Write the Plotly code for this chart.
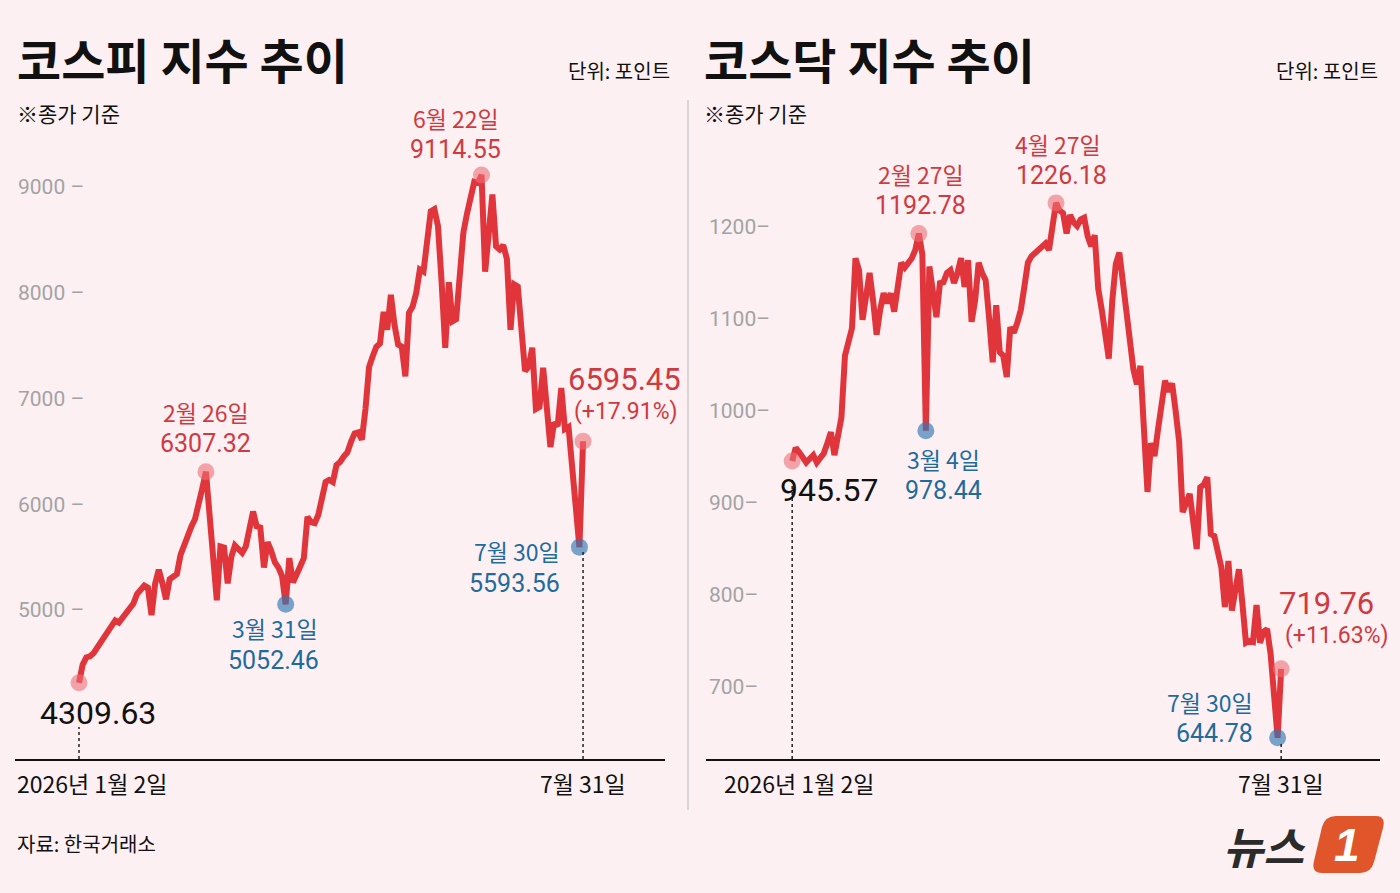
import plotly.graph_objects as go

W, H = 1400, 893

# trading days from 2026-01-02 to 2026-07-31 (index 0 .. 139), closing values
kospi = [
    4309.63, 4480, 4550, 4560, 4590, 4640, 4700, 4760, 4800, 4850,
    4900, 4880, 4920, 4960, 5000, 5060, 5150, 5190, 5230, 5210,
    4950, 5250, 5380, 5250, 5100, 5290, 5310, 5340, 5520, 5610,
    5720, 5790, 5860, 5990, 6150, 6307.32, 5900, 5400, 5090, 5600,
    5590, 5250, 5500, 5610, 5570, 5540, 5600, 5750, 5930, 5790,
    5780, 5400, 5640, 5560, 5450, 5400, 5320, 5052.46, 5490, 5260,
    5350, 5410, 5490, 5880, 5830, 5820, 5900, 6050, 6210, 6230,
    6210, 6370, 6400, 6450, 6490, 6590, 6670, 6680, 6610, 6900,
    7300, 7400, 7490, 7520, 7820, 7650, 7980, 7700, 7510, 7490,
    7210, 7810, 7870, 8000, 8220, 8200, 8450, 8770, 8790, 8630,
    8100, 7480, 8100, 7730, 7750, 8150, 8570, 8750, 8900, 9050,
    9040, 9114.55, 8200, 8600, 8930, 8440, 8410, 8450, 8320, 7650,
    8080, 8060, 7600, 7260, 7300, 7480, 6900, 6920, 7290, 6900,
    6540, 6770, 6740, 7100, 6710, 6730, 6390, 5950, 5593.56, 6595.45,
]

kosdaq = [
    945.57, 960, 955, 948, 944, 948, 952, 944, 950, 954,
    965, 977, 952, 975, 993, 1060, 1075, 1090, 1166, 1153,
    1099, 1130, 1150, 1120, 1083, 1110, 1128, 1117, 1128, 1108,
    1140, 1161, 1156, 1160, 1166, 1175, 1192.78, 1170, 978.44, 1157,
    1125, 1102, 1139, 1140, 1150, 1153, 1139, 1150, 1166, 1135,
    1164, 1097, 1120, 1161, 1150, 1142, 1100, 1053, 1115, 1064,
    1060, 1037, 1091, 1085, 1096, 1110, 1135, 1161, 1168, 1172,
    1176, 1180, 1182, 1175, 1200, 1226.18, 1218, 1215, 1193, 1213,
    1205, 1201, 1208, 1210, 1190, 1179, 1191, 1133, 1110, 1080,
    1057, 1120, 1160, 1172, 1140, 1100, 1070, 1045, 1029, 1049,
    980, 912, 965, 951, 980, 1010, 1033, 1021, 1030, 1000,
    967, 890, 900, 910, 880, 850, 917, 920, 928, 866,
    864, 845, 830, 787, 837, 783, 805, 828, 790, 748,
    750, 749, 789, 748, 760, 763, 736, 690, 644.78, 719.76,
]

kospi_yticks = [5000, 6000, 7000, 8000, 9000]
kosdaq_yticks = [700, 800, 900, 1000, 1100, 1200]

first_day_label = "2026년 1월 2일"
last_day_label = "7월 31일"

# highlighted days: index, date label, kind
kospi_marks = [(35, "2월 26일", "high"), (57, "3월 31일", "low"),
               (111, "6월 22일", "high"), (138, "7월 30일", "low")]
kosdaq_marks = [(36, "2월 27일", "high"), (38, "3월 4일", "low"),
                (75, "4월 27일", "high"), (138, "7월 30일", "low")]

BG = "#fcf0f3"
LINE = "#e0353b"
RED_TXT = "#cf3a40"
BLUE_TXT = "#1f6b9c"
TICK = "#a3a3a3"
KR = "Noto Sans CJK KR"
NUM = "Roboto, Noto Sans CJK KR"


def px(x):
    return x / W


def py(y):
    return 1 - y / H


fig = go.Figure()

panels = [
    dict(vals=kospi, marks=kospi_marks, ticks=kospi_yticks, xa="x", ya="y",
         title="코스피 지수 추이", tx=15, ux=672, start_x=79, end_x=583, first_x=15,
         start_shift=(19, -30), start_anchor="center", chg_shift=(-17, 62),
         dot_top=(727, 552)),
    dict(vals=kosdaq, marks=kosdaq_marks, ticks=kosdaq_yticks, xa="x2", ya="y2",
         title="코스닥 지수 추이", tx=702, ux=1380, start_x=793, end_x=1281, first_x=722,
         start_shift=(-14, -29), start_anchor="left", chg_shift=(-4, 65),
         dot_top=(478, 742)),
]

# offsets (px) for date / value labels per highlighted point
label_offsets = {
    "kospi": [((0, 60), (0, 28), "center"), ((-11, -24), (-12, -56), "center"),
              ((-26, 57), (-26, 25), "center"), ((-17, -4), (-17, -36), "right")],
    "kosdaq": [((2, 60), (2, 28), "center"), ((18, -28), (18, -60), "center"),
               ((2, 59), (5, 27), "center"), ((-23, 36), (-23, 4), "right")],
}

for p, key in zip(panels, ["kospi", "kosdaq"]):
    vals = p["vals"]
    days = list(range(len(vals)))
    fig.add_trace(go.Scatter(x=days, y=vals, mode="lines", xaxis=p["xa"], yaxis=p["ya"],
                             line=dict(color=LINE, width=6), hoverinfo="skip",
                             showlegend=False))
    hi = [i for i, _, k in p["marks"] if k == "high"] + [0, len(vals) - 1]
    lo = [i for i, _, k in p["marks"] if k == "low"]
    fig.add_trace(go.Scatter(x=hi, y=[vals[i] for i in hi], mode="markers",
                             xaxis=p["xa"], yaxis=p["ya"], showlegend=False,
                             marker=dict(size=17, color="rgba(236,110,118,0.6)")))
    fig.add_trace(go.Scatter(x=lo, y=[vals[i] for i in lo], mode="markers",
                             xaxis=p["xa"], yaxis=p["ya"], showlegend=False,
                             marker=dict(size=17, color="rgba(50,120,180,0.65)")))

    # start value
    sx, sy = p["start_shift"]
    fig.add_annotation(x=0, y=vals[0], xref=p["xa"], yref=p["ya"], text=f"{vals[0]:.2f}",
                       showarrow=False, xshift=sx, yshift=sy, xanchor=p["start_anchor"],
                       font=dict(family=NUM, size=32, color="#111111"))
    # highlighted points
    for (i, dlabel, kind), (doff, voff, anchor) in zip(p["marks"], label_offsets[key]):
        col = RED_TXT if kind == "high" else BLUE_TXT
        fig.add_annotation(x=i, y=vals[i], xref=p["xa"], yref=p["ya"], text=dlabel,
                           showarrow=False, xanchor=anchor, xshift=doff[0], yshift=doff[1],
                           font=dict(family=KR, size=23, color=col))
        fig.add_annotation(x=i, y=vals[i], xref=p["xa"], yref=p["ya"], text=f"{vals[i]:.2f}",
                           showarrow=False, xanchor=anchor, xshift=voff[0], yshift=voff[1],
                           font=dict(family=NUM, size=25, color=col))
    # last value and change
    last, prev = vals[-1], vals[-2]
    cx, cy = p["chg_shift"]
    fig.add_annotation(x=len(vals) - 1, y=last, xref=p["xa"], yref=p["ya"], text=f"{last:.2f}",
                       showarrow=False, xanchor="left", xshift=cx, yshift=cy,
                       font=dict(family=NUM, size=31, color=RED_TXT))
    fig.add_annotation(x=len(vals) - 1, y=last, xref=p["xa"], yref=p["ya"],
                       text=f"(+{(last / prev - 1) * 100:.2f}%)",
                       showarrow=False, xanchor="left", xshift=cx + 6, yshift=cy - 32,
                       font=dict(family=NUM, size=23, color=RED_TXT))

    # x labels under the axis
    fig.add_annotation(x=px(p["first_x"]), y=py(783), xref="paper", yref="paper",
                       text=first_day_label, showarrow=False, xanchor="left", yanchor="middle",
                       font=dict(family=KR, size=23, color="#111111"))
    fig.add_annotation(x=px(p["end_x"]), y=py(783), xref="paper", yref="paper",
                       text=last_day_label, showarrow=False, xanchor="center", yanchor="middle",
                       font=dict(family=KR, size=23, color="#111111"))

    # dotted guides
    top0, top1 = p["dot_top"]
    fig.add_shape(type="line", xref=p["xa"], yref="paper", x0=0, x1=0,
                  y0=py(759), y1=py(top0),
                  line=dict(color="#222222", width=1.5, dash="dot"))
    fig.add_shape(type="line", xref=p["xa"], yref="paper", x0=len(vals) - 1, x1=len(vals) - 1,
                  y0=py(759), y1=py(top1),
                  line=dict(color="#222222", width=1.5, dash="dot"))

    # titles
    fig.add_annotation(x=px(p["tx"]), y=py(58), xref="paper", yref="paper", text=p["title"],
                       showarrow=False, xanchor="left", yanchor="middle",
                       font=dict(family=KR, size=48, color="#111111", weight="bold"))
    fig.add_annotation(x=px(p["ux"]), y=py(70), xref="paper", yref="paper", text="단위: 포인트",
                       showarrow=False, xanchor="right", yanchor="middle",
                       font=dict(family=KR, size=20, color="#111111"))
    fig.add_annotation(x=px(p["tx"]), y=py(113), xref="paper", yref="paper", text="※종가 기준",
                       showarrow=False, xanchor="left", yanchor="middle",
                       font=dict(family=KR, size=21, color="#111111"))

axis_common = dict(showgrid=False, zeroline=False, fixedrange=True)
x_common = dict(axis_common, showline=True, linecolor="#111111", linewidth=2,
                showticklabels=False, ticks="")
fig.update_layout(
    width=W, height=H, paper_bgcolor=BG, plot_bgcolor=BG,
    margin=dict(l=0, r=0, t=0, b=0), showlegend=False,
    xaxis=dict(x_common, domain=[px(15), px(665)], range=[-17.65, 161.6], anchor="y"),
    yaxis=dict(axis_common, domain=[py(759), py(100)], range=[3589, 9824],
               anchor="x", tickvals=kospi_yticks, ticktext=[f"{v} –" for v in kospi_yticks],
               ticklabelposition="inside", ticks="", showline=False,
               tickfont=dict(family=NUM, size=21, color=TICK)),
    xaxis2=dict(x_common, domain=[px(706), px(1380)], range=[-24.5, 167.1], anchor="y2"),
    yaxis2=dict(axis_common, domain=[py(759), py(100)], range=[621.7, 1338],
                anchor="x2", tickvals=kosdaq_yticks, ticktext=[f"{v}–" for v in kosdaq_yticks],
                ticklabelposition="inside", ticks="", showline=False,
                tickfont=dict(family=NUM, size=21, color=TICK)),
)

# divider between panels
fig.add_shape(type="line", xref="paper", yref="paper", x0=px(688), x1=px(688),
              y0=py(810), y1=py(100), line=dict(color="#d9d4d6", width=2))

# source
fig.add_annotation(x=px(15), y=py(843), xref="paper", yref="paper", text="자료: 한국거래소",
                   showarrow=False, xanchor="left", yanchor="middle",
                   font=dict(family=KR, size=20, color="#111111"))

# logo
fig.add_annotation(x=px(1307), y=py(845), xref="paper", yref="paper", text="<b><i>뉴스</i></b>",
                   showarrow=False, xanchor="right", yanchor="middle",
                   font=dict(family=KR, size=44, color="#2b2b2b"))
fig.add_shape(type="path", xref="paper", yref="paper",
              path=(f"M {px(1330)},{py(816)} L {px(1376)},{py(816)} "
                    f"Q {px(1386)},{py(816)} {px(1383)},{py(828)} "
                    f"L {px(1374)},{py(862)} Q {px(1371)},{py(873)} {px(1360)},{py(873)} "
                    f"L {px(1322)},{py(873)} Q {px(1311)},{py(873)} {px(1314)},{py(861)} "
                    f"L {px(1322)},{py(827)} Q {px(1325)},{py(816)} {px(1336)},{py(816)} Z"),
              fillcolor="#e1552b", line=dict(width=0))
fig.add_annotation(x=px(1347), y=py(845), xref="paper", yref="paper", text="<b><i>1</i></b>",
                   showarrow=False, xanchor="center", yanchor="middle",
                   font=dict(family="Liberation Sans", size=46, color="#ffffff"))

fig.write_html("out.html", config={"displayModeBar": False},
               post_script="document.body.style.margin = '0';")
